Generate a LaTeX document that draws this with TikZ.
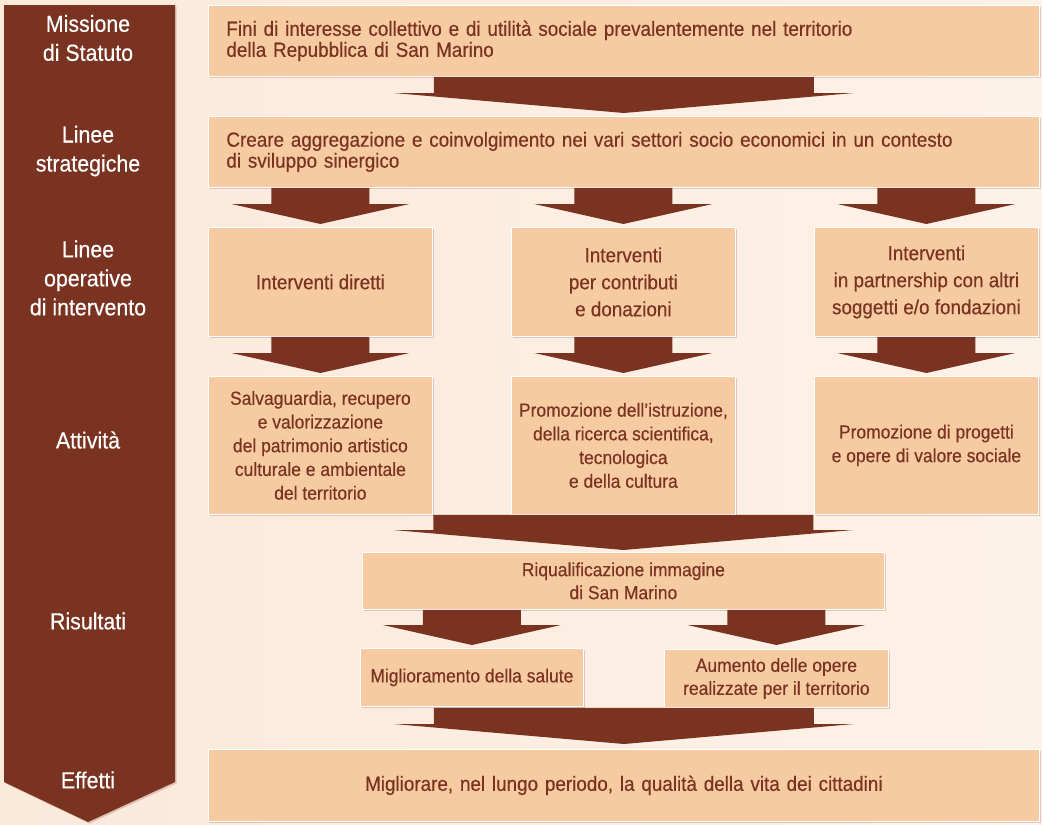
\documentclass[tikz,border=0pt]{standalone}
\usepackage{fontspec}
\setmainfont{Liberation Sans}[FakeStretch=0.92, FakeBold=0.4]
\usetikzlibrary{calc, shadows}
\definecolor{Chestnut}{RGB}{122, 51, 33}
\definecolor{Peach}{RGB}{247, 203, 162}
\definecolor{CreamLeft}{RGB}{251, 233, 218}
\definecolor{CreamRight}{RGB}{253, 242, 232}

% flat block arrow: stem from the y of #1, tip at #2, half widths #3 (stem) and #4 (head)
\newcommand{\fatarrow}[4]{%
  \fill[Chestnut] let \p1=#1, \p2=#2 in
    (\x2-#3pt,\y1) -- (\x2+#3pt,\y1) -- (\x2+#3pt,\y2+20pt) -- (\x2+#4pt,\y2+20pt)
    -- (\x2,\y2) -- (\x2-#4pt,\y2+20pt) -- (\x2-#3pt,\y2+20pt) -- cycle;}

\begin{document}
\begin{tikzpicture}[x=1pt, y=-1pt,
    softshadow/.style={drop shadow={shadow xshift=1.5pt, shadow yshift=-1.5pt, opacity=0.22, fill=Chestnut}},
    box/.style={fill=Peach, draw=white, line width=0.8pt, text=Chestnut, align=center,
      inner sep=0pt, anchor=north west, softshadow},
    widebox/.style={box, align=left, text width=795pt, inner xsep=18pt, minimum height=71pt,
      font=\fontsize{20.5}{21}\selectfont},
    opbox/.style={box, minimum width=224pt, minimum height=109pt, font=\fontsize{20.5}{27}\selectfont},
    actbox/.style={box, minimum width=224pt, minimum height=138pt, font=\fontsize{19}{23.7}\selectfont},
    resbox/.style={box, minimum height=58pt, font=\fontsize{19}{23}\selectfont},
    stage/.style={text=white, align=center, font=\fontsize{23.2}{29}\selectfont}]
  \useasboundingbox (0,0) rectangle (1042,825);
  % Background
  \shade[left color=CreamLeft, right color=CreamRight] (0,0) rectangle (1042,825);
  % Stage arrow on the left
  \fill[Chestnut, softshadow] (4,5) -- (175,5) -- (175,782) -- (88,822) -- (4,782) -- cycle;
  \node[stage] (lmission) at (88,38) {Missione\\di Statuto};
  \node[stage] (lstrategy) at (88,151) {Linee\\strategiche};
  \node[stage] (loperative) at (88,278) {Linee\\operative\\di intervento};
  \node[stage] (lactivity) at (88,440) {Attività};
  \node[stage] (lresults) at (88,621) {Risultati};
  \node[stage] (leffects) at (88,780) {Effetti};
  % Mission and strategy
  \node[widebox] (mission) at (208,5)
    {Fini di interesse collettivo e di utilità sociale prevalentemente nel territorio\\della Repubblica di San Marino};
  \node[widebox] (strategy) at (208,116)
    {Creare aggregazione e coinvolgimento nei vari settori socio economici in un contesto\\di sviluppo sinergico};
  % Operative lines
  \node[opbox] (direct) at (208,227) {Interventi diretti};
  \node[opbox] (grants) at (511,227) {Interventi\\per contributi\\e donazioni};
  \node[opbox] (partner) at (814,227) {Interventi\\in partnership con altri\\soggetti e/o fondazioni};
  % Activities
  \node[actbox] (heritage) at (208,376)
    {Salvaguardia, recupero\\e valorizzazione\\del patrimonio artistico\\culturale e ambientale\\del territorio};
  \node[actbox] (education) at (511,376)
    {Promozione dell’istruzione,\\della ricerca scientifica,\\tecnologica\\e della cultura};
  \node[actbox] (social) at (814,376) {Promozione di progetti\\e opere di valore sociale};
  % Results
  \node[resbox, minimum width=522pt, minimum height=57pt] (image) at (362,552)
    {Riqualificazione immagine\\di San Marino};
  \node[resbox, minimum width=223pt] (health) at (360,648) {Miglioramento della salute};
  \node[resbox, minimum width=224pt] (works) at (664,649) {Aumento delle opere\\realizzate per il territorio};
  % Effects
  \node[widebox, align=center, minimum height=72pt] (effects) at (208,749)
    {Migliorare, nel lungo periodo, la qualità della vita dei cittadini};
  % Arrows
  \fatarrow{(mission.south)}{($(strategy.north)+(0,-3)$)}{190}{230}
  \foreach \to in {direct, grants, partner} {
    \fatarrow{(strategy.south)}{($(\to.north)+(0,-3)$)}{49}{89}
  }
  \fatarrow{(direct.south)}{($(heritage.north)+(0,-3)$)}{49}{89}
  \fatarrow{(grants.south)}{($(education.north)+(0,-3)$)}{49}{89}
  \fatarrow{(partner.south)}{($(social.north)+(0,-3)$)}{49}{89}
  \fatarrow{(education.south)}{($(image.north)+(0,-2)$)}{190}{230}
  \fatarrow{(image.south)}{($(health.north)+(0,-3)$)}{49}{89}
  \fatarrow{(image.south)}{($(works.north)+(0,-4)$)}{49}{89}
  \fatarrow{(works.south)}{($(effects.north)+(0,-5)$)}{190}{230}
\end{tikzpicture}
\end{document}
